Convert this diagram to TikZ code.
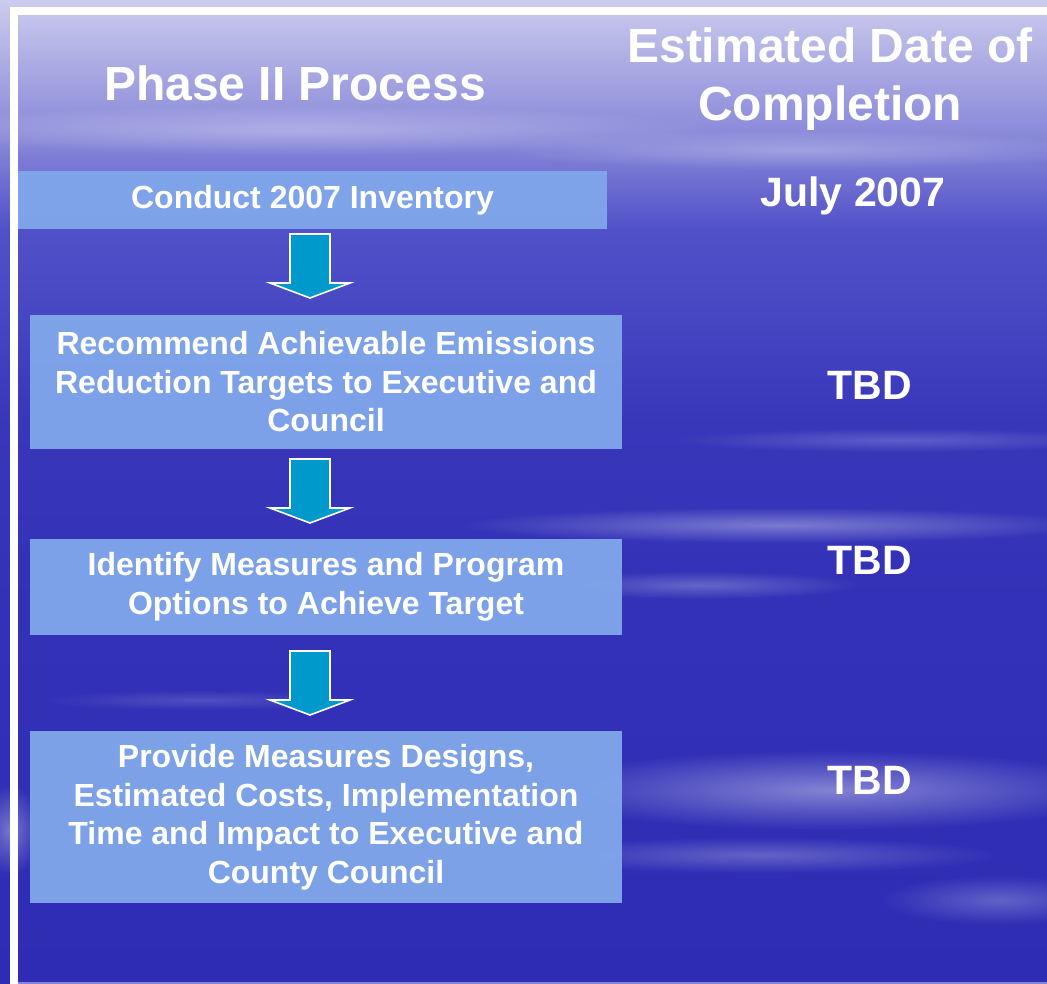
\documentclass[tikz,border=0pt]{standalone}
\usepackage{fontspec}
\setmainfont{Liberation Sans}
\usetikzlibrary{calc, fadings}

\definecolor{skytop}{RGB}{204,204,238}
\definecolor{skymid}{RGB}{80,80,200}
\definecolor{skylow}{RGB}{46,44,180}
\definecolor{boxblue}{RGB}{128,166,234}
\definecolor{arrowblue}{RGB}{0,153,204}
\pgfdeclareverticalshading{sky}{100bp}{color(0bp)=(skylow); color(25bp)=(skylow);
  color(44.5bp)=(skylow!85!skymid); color(53.7bp)=(skylow!70!skymid);
  color(59.8bp)=(skymid!80!skylow); color(63.3bp)=(skymid);
  color(67.4bp)=(skymid!60!skytop); color(71.9bp)=(skymid!25!skytop);
  color(75bp)=(skytop); color(100bp)=(skytop)}
\tikzfading[name=softedge, inner color=transparent!0, outer color=transparent!100]

\begin{document}
\begin{tikzpicture}[x=1pt, y=-1pt,
  stepbox/.style={fill=boxblue, fill opacity=0.96, text opacity=1, text=white,
    inner sep=0pt, align=center, font=\bfseries\fontsize{32}{38.5}\selectfont},
  datetext/.style={text=white, font=\bfseries\fontsize{41}{48}\selectfont},
  headtext/.style={text=white, align=center, font=\bfseries\fontsize{48}{58}\selectfont},
  downarr/.style={fill=arrowblue, draw=white, line width=1.6pt, line join=miter},
  streak/.style={fill=white, path fading=softedge}]
  \useasboundingbox (0,0) rectangle (1047,984);
  \clip (0,0) rectangle (1047,984);
  % sky background
  \shade[shading=sky] (0,0) rectangle (1047,984);
  % cloud streaks
  \fill[streak, opacity=0.3] (300,130) ellipse (420 and 25);
  \fill[streak, opacity=0.25] (800,150) ellipse (300 and 20);
  \fill[streak, opacity=0.2] (900,440) ellipse (230 and 12);
  \fill[streak, opacity=0.35] (780,525) ellipse (320 and 18);
  \fill[streak, opacity=0.25] (700,585) ellipse (160 and 14);
  \fill[streak, opacity=0.4] (830,790) ellipse (300 and 40);
  \fill[streak, opacity=0.25] (760,855) ellipse (240 and 18);
  \fill[streak, opacity=0.25] (1000,900) ellipse (120 and 25);
  \fill[streak, opacity=0.35] (10,830) ellipse (30 and 45);
  \fill[streak, opacity=0.15] (200,700) ellipse (160 and 10);
  % frame
  \draw[white, line width=8pt, line join=miter] (14,984) -- (14,11) -- (1047,11);
  \draw[skymid!70!white, line width=1.5pt] (18,983) -- (1047,983);
  % headings
  \node[headtext] (phase) at (295,83) {Phase II Process};
  \node[headtext] (edc) at (830,79) {Estimated Date of\\Completion};
  % process steps
  \node[stepbox, minimum width=589pt, minimum height=58pt] (inv) at (312.5,200)
    {Conduct 2007 Inventory};
  \node[stepbox, minimum width=592pt, minimum height=134pt] (target) at (326,382)
    {Recommend Achievable Emissions\\Reduction Targets to Executive and\\Council};
  \node[stepbox, minimum width=592pt, minimum height=96pt] (measures) at (326,587)
    {Identify Measures and Program\\Options to Achieve Target};
  \node[stepbox, minimum width=592pt, minimum height=172pt] (designs) at (326,817)
    {Provide Measures Designs,\\Estimated Costs, Implementation\\Time and Impact to Executive and\\County Council};
  % block arrows between steps
  \foreach \y in {266,491,683}
    \draw[downarr] (290,\y-32) -- ++(40,0) -- ++(0,49) -- ++(20,0)
      -- ++(-40,15) -- ++(-40,-15) -- ++(20,0) -- cycle;
  % completion dates
  \node[datetext] (d1) at (853,196) {July 2007};
  \node[datetext] (d2) at (870,385) {TBD};
  \node[datetext] (d3) at (870,560) {TBD};
  \node[datetext] (d4) at (870,780) {TBD};
\end{tikzpicture}
\end{document}
